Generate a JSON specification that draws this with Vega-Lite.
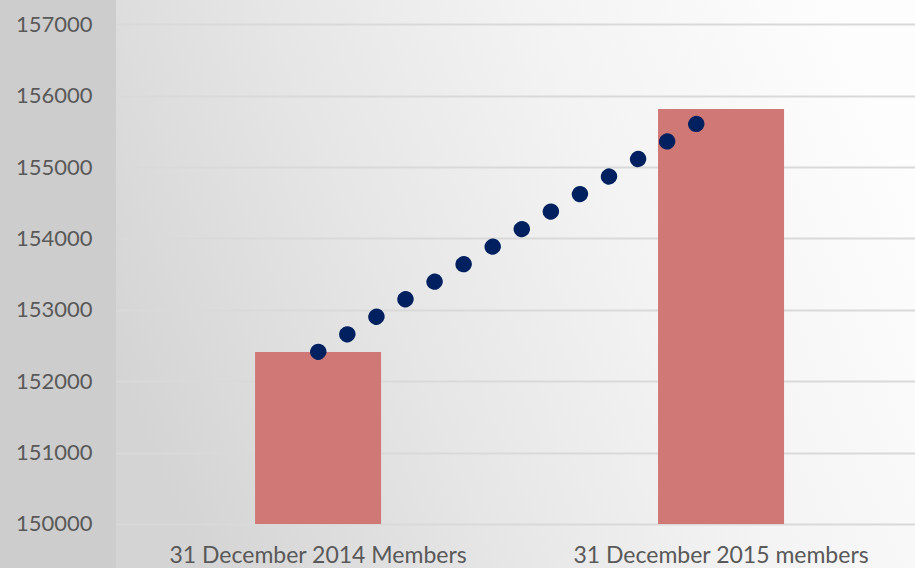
{
  "$schema": "https://vega.github.io/schema/vega-lite/v6.json",
  "autosize": "none",
  "width": 799,
  "height": 568,
  "padding": {"left": 116, "top": 0, "right": 0, "bottom": 0},
  "background": "#cdcdcd",
  "view": {
    "stroke": null,
    "fill": {
      "gradient": "linear",
      "x1": 0, "y1": 0.65, "x2": 1, "y2": 0.35,
      "stops": [
        {"offset": 0, "color": "#d4d4d4"},
        {"offset": 0.35, "color": "#e6e6e6"},
        {"offset": 0.65, "color": "#f3f3f3"},
        {"offset": 1, "color": "#fdfdfd"}
      ]
    }
  },
  "data": {
    "values": [
      {"period": "31 December 2014 Members", "members": 152410},
      {"period": "31 December 2015 members", "members": 155814}
    ]
  },
  "encoding": {
    "x": {
      "field": "period",
      "type": "nominal",
      "sort": null,
      "scale": {"paddingInner": 0.6873, "paddingOuter": 0.335, "align": 0.515},
      "axis": {
        "title": null,
        "orient": "bottom",
        "offset": -44,
        "domain": false,
        "ticks": false,
        "labelAngle": 0,
        "labelPadding": 20,
        "labelLimit": 0,
        "labelFont": "Lato",
        "labelFontSize": 23,
        "labelColor": "#595959"
      }
    },
    "y": {
      "field": "members",
      "type": "quantitative",
      "scale": {"domain": [149383.6, 157340.4], "nice": false, "zero": false},
      "axis": {
        "title": null,
        "values": [150000, 151000, 152000, 153000, 154000, 155000, 156000, 157000],
        "format": "d",
        "domain": false,
        "ticks": false,
        "grid": true,
        "gridColor": "#d9d9d9",
        "gridWidth": 2,
        "labelPadding": 24,
        "labelFont": "Lato",
        "labelFontSize": 22,
        "labelColor": "#595959"
      }
    }
  },
  "layer": [
    {
      "mark": {"type": "bar", "color": "#D07876"},
      "encoding": {"y2": {"datum": 150000}}
    },
    {
      "mark": {
        "type": "line",
        "color": "#002060",
        "strokeWidth": 16,
        "strokeCap": "round",
        "strokeDash": [0.5, 33.45]
      },
      "encoding": {}
    }
  ]
}
